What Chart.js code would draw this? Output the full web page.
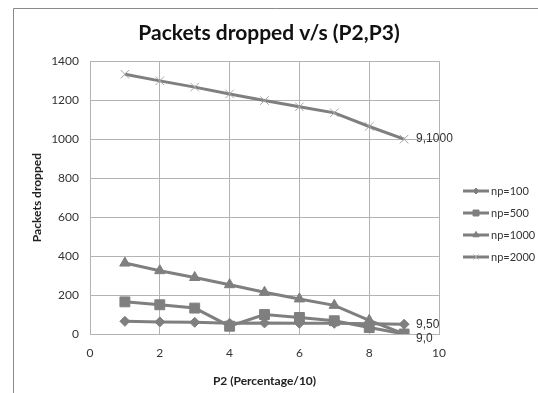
<!DOCTYPE html>
<html>
<head>
<meta charset="utf-8">
<script src="https://cdn.jsdelivr.net/npm/chart.js@4/dist/chart.umd.min.js"></script>
<style>
  html, body { margin: 0; padding: 0; background: #fff; }
  #wrap { width: 538px; height: 393px; }
</style>
</head>
<body>
<div id="wrap"><canvas id="chart"></canvas></div>
<script>
const p2 = [1, 2, 3, 4, 5, 6, 7, 8, 9];
const np100 = [65, 62, 60, 55, 57, 55, 55, 52, 50];
const np500 = [165, 150, 133, 40, 100, 85, 68, 33, 0];
const np1000 = [364, 325, 290, 253, 214, 180, 147, 70, 0];
const np2000 = [1333, 1299, 1267, 1232, 1198, 1166, 1135, 1065, 1000];
const seriesNames = ['np=100', 'np=500', 'np=1000', 'np=2000'];
const lastLabels = ['9,50', '9,0', '', '9,1000'];

const font = "Lato, 'Noto Sans', sans-serif";
const lineColor = '#7f7f7f';

const toPoints = (ys) => ys.map((y, i) => ({ x: p2[i], y }));

const styles = [
  { pointStyle: 'rectRot', pointRadius: 5, color: lineColor },
  { pointStyle: 'rect', pointRadius: 7, color: lineColor },
  { pointStyle: 'triangle', pointRadius: 6, color: lineColor },
  { pointStyle: 'crossRot', pointRadius: 6, color: '#a6a6a6' },
];

// frame around the whole chart (only left and top show)
const frame = {
  id: 'frame',
  beforeDraw(chart) {
    const { ctx } = chart;
    ctx.save();
    ctx.fillStyle = '#fff';
    ctx.fillRect(0, 0, chart.width, chart.height);
    ctx.strokeStyle = '#8a8a8a';
    ctx.lineWidth = 1;
    ctx.beginPath();
    ctx.moveTo(13.5, chart.height + 2);
    ctx.lineTo(13.5, 8.5);
    ctx.lineTo(chart.width + 2, 8.5);
    ctx.stroke();
    ctx.restore();
  },
};

// value labels next to the last points
const endLabels = {
  id: 'endLabels',
  afterDatasetsDraw(chart) {
    const { ctx } = chart;
    ctx.save();
    ctx.font = "12px 'Liberation Sans', sans-serif";
    ctx.fillStyle = '#333';
    ctx.textBaseline = 'middle';
    lastLabels.forEach((txt, i) => {
      if (!txt) return;
      const pt = chart.getDatasetMeta(i).data[8];
      const dy = txt === '9,0' ? 5 : 0;
      ctx.fillText(txt, pt.x + 12, pt.y + dy);
    });
    ctx.restore();
  },
};

// excel style legend: line with marker, then text
const sideLegend = {
  id: 'sideLegend',
  afterDraw(chart) {
    const { ctx } = chart;
    const x0 = 463, x1 = 489, rowY = [191, 213, 235, 257];
    ctx.save();
    chart.data.datasets.forEach((ds, i) => {
      const y = rowY[i];
      ctx.strokeStyle = lineColor;
      ctx.lineWidth = 3;
      ctx.beginPath();
      ctx.moveTo(x0, y);
      ctx.lineTo(x1, y);
      ctx.stroke();
      ctx.fillStyle = ds.pointBackgroundColor;
      ctx.strokeStyle = ds.pointBorderColor;
      ctx.lineWidth = 1;
      Chart.helpers.drawPoint(ctx, { pointStyle: ds.pointStyle, radius: ds.pointRadius * 0.6, borderWidth: 1 }, (x0 + x1) / 2, y);
      ctx.fillStyle = '#333';
      ctx.font = '11px ' + font;
      ctx.textBaseline = 'middle';
      ctx.fillText(ds.label, x1 + 2, y);
    });
    ctx.restore();
  },
};

const tickFont = { family: font, size: 12 };

const config = {
  type: 'scatter',
  data: {
    datasets: [np100, np500, np1000, np2000].map((ys, i) => ({
      label: seriesNames[i],
      data: toPoints(ys),
      showLine: true,
      borderColor: lineColor,
      borderWidth: 3,
      pointStyle: styles[i].pointStyle,
      pointRadius: styles[i].pointRadius,
      pointBackgroundColor: styles[i].color,
      pointBorderColor: styles[i].color,
      pointBorderWidth: 1,
    })),
  },
  options: {
    responsive: true,
    maintainAspectRatio: false,
    animation: false,
    layout: {
      padding: { left: 0, right: 0, top: 1, bottom: 0 },
    },
    scales: {
      x: {
        type: 'linear',
        min: 0,
        max: 10,
        ticks: { stepSize: 2, padding: 12, color: '#333', font: tickFont },
        grid: { color: '#b3b3b3', drawTicks: false },
        border: { color: '#b3b3b3' },
        title: {
          display: true,
          text: 'P2 (Percentage/10)',
          color: '#222',
          font: { family: font, size: 12, weight: 'bold' },
          padding: { top: 0, bottom: 5 },
        },
        afterFit: (s) => { s.height = 59; },
      },
      y: {
        min: 0,
        max: 1400,
        ticks: { stepSize: 200, padding: 11, color: '#333', font: tickFont, callback: (v) => String(v) },
        grid: { color: '#b3b3b3', drawTicks: false },
        border: { color: '#b3b3b3' },
        title: {
          display: true,
          text: 'Packets dropped',
          color: '#222',
          font: { family: font, size: 12, weight: 'bold' },
          padding: { top: 30, bottom: 0 },
        },
        afterFit: (s) => { s.width = 90; },
      },
      // empty right axis that keeps room for the legend
      side: {
        position: 'right',
        display: true,
        grid: { display: false },
        border: { display: false },
        ticks: { display: false },
        afterFit: (s) => { s.width = 99; },
      },
    },
    plugins: {
      title: {
        display: true,
        text: 'Packets dropped v/s (P2,P3)',
        color: '#111',
        font: { family: font, size: 21, weight: 'bold' },
        padding: { top: 20, bottom: 15 },
      },
      legend: { display: false },
      tooltip: { enabled: false },
    },
  },
  plugins: [frame, endLabels, sideLegend],
};

new Chart(document.getElementById('chart'), config);
</script>
</body>
</html>
